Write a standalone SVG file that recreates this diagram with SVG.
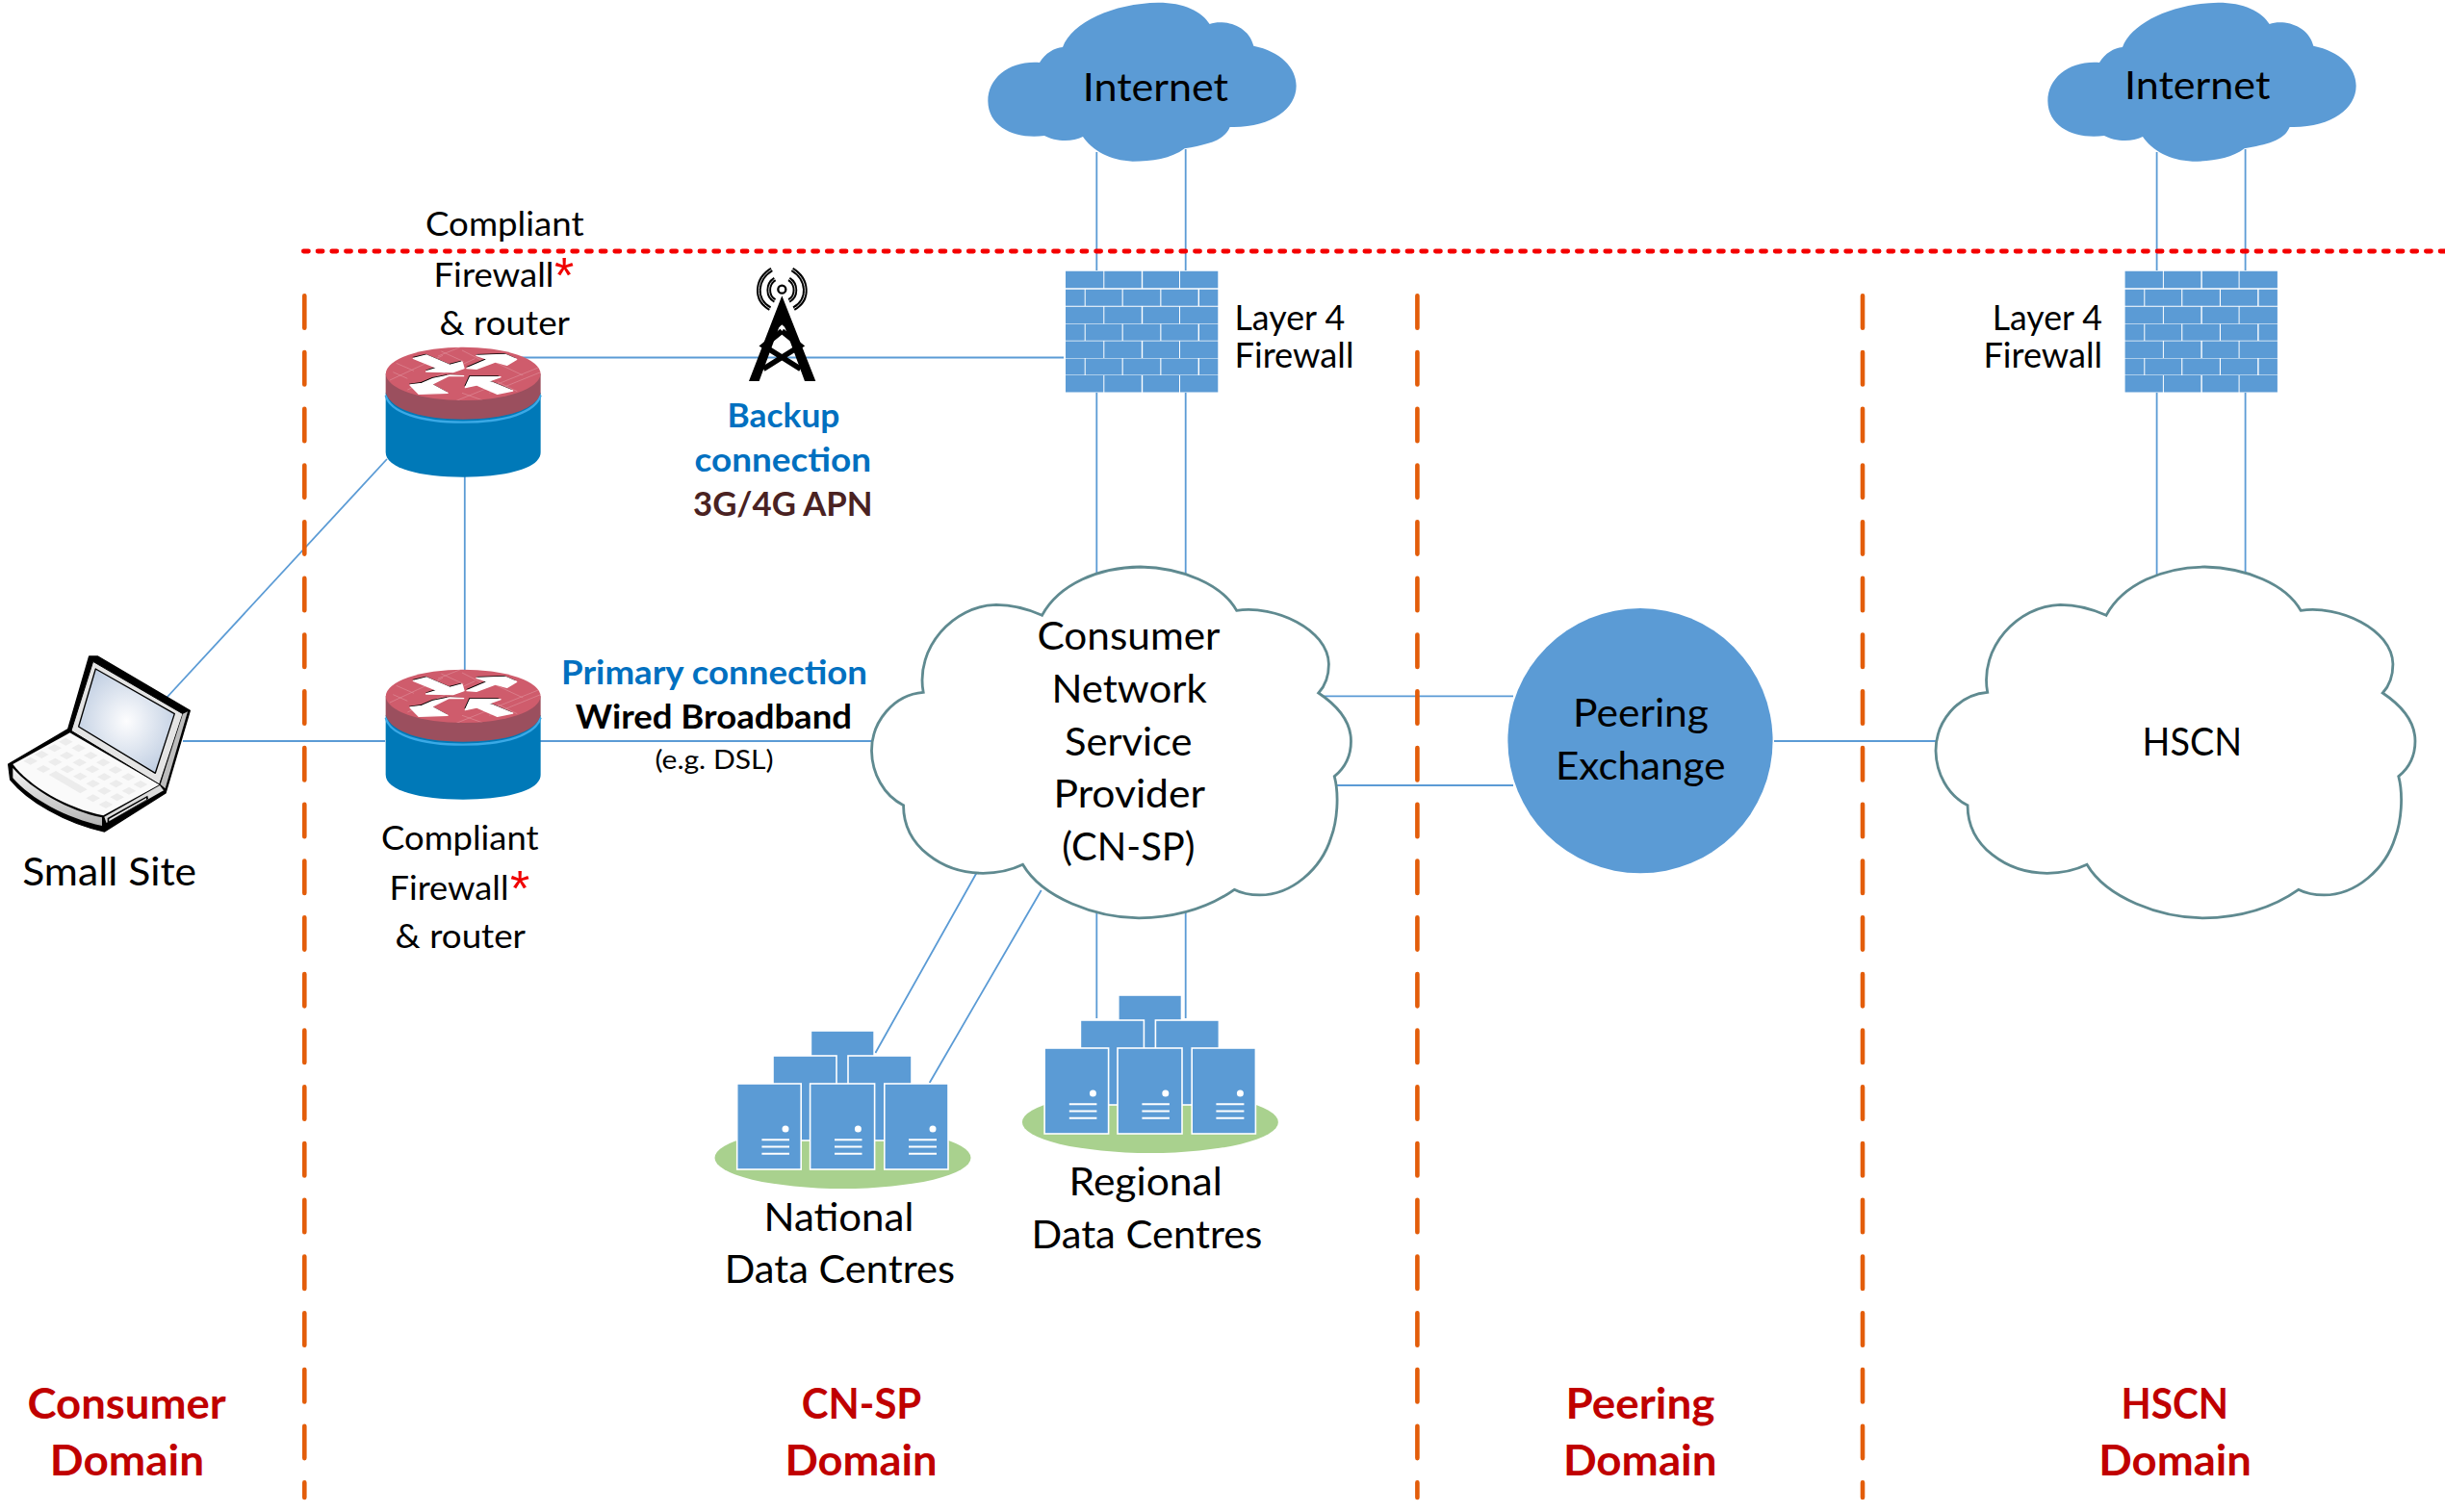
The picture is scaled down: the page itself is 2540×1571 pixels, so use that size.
<svg xmlns="http://www.w3.org/2000/svg" xmlns:xlink="http://www.w3.org/1999/xlink" width="2540" height="1571" viewBox="0 0 2540 1571">
<style>
text{font-family:"Lato","Liberation Sans",sans-serif;fill:#000}
.b{font-size:40px}.m{font-size:36px}.s{font-size:34px}.x{font-size:27px}
.bd{font-size:34px;font-weight:700}
.blue{fill:#0070c0}.brn{fill:#4a2222}
.dom{font-size:43px;font-weight:700;fill:#c00000}
.ast{font-family:"Liberation Sans",sans-serif;font-size:52px;fill:#f00000}
.link{stroke:#5b9bd5;stroke-width:1.8;fill:none}
.orange{stroke:#e35d0a;stroke-width:4.6;stroke-linecap:round;stroke-dasharray:33.4 25.32;fill:none}
.red{stroke:#f40000;stroke-width:4.8;stroke-linecap:round;stroke-dasharray:5 9.7;fill:none}
.cf{fill:#5b9bd5}
.cw{fill:#fff;stroke:#5f8a90;stroke-width:2.8;vector-effect:non-scaling-stroke;stroke-linejoin:miter}
.srv{fill:#5b9bd5;stroke:#fff;stroke-width:1.6}
.wl{stroke:#fff;stroke-width:2;fill:none}
.rb{stroke:#e08c98;stroke-width:2;fill:none}
</style>
<defs>
<path id="inet" d="M240 195C258 165 285 150 312 147C340 70 470 10 610 8C690 8 745 35 770 75C810 60 890 75 907 143C990 160 1040 210 1040 268C1040 340 960 400 833 396C815 440 760 450 692 463C650 495 590 503 530 503C460 500 405 470 375 426C340 445 285 440 255 423C170 435 80 400 79 315C79 240 150 188 240 195Z"/>
<path id="bigcloud" class="cw" d="M588 208C640 110 760 58 885 57C1010 60 1130 110 1175 193C1290 175 1450 250 1453 360C1453 400 1440 430 1422 450C1480 490 1520 540 1520 600C1520 650 1500 685 1470 710C1485 770 1478 850 1460 900C1430 1000 1340 1080 1245 1080C1215 1080 1190 1075 1168 1063C1090 1120 990 1150 880 1152C750 1150 590 1090 530 985C490 1005 450 1012 410 1012C290 1012 170 930 170 800C110 770 75 700 74 630C74 540 140 455 230 448C205 310 320 178 450 175C500 175 550 190 588 208Z"/>
<path id="bA" d="M0 0h39.3v17.6h-39.3zM40.3 0h38.5v17.6h-38.5zM80.2 0h37.8v17.6h-37.8zM119 0h39.3v17.6h-39.3z"/>
<path id="bB" d="M0 0h19.7v17h-19.7zM20.7 0h37.9v17h-37.9zM59.7 0h38.6v17h-38.6zM99.4 0h38.2v17h-38.2zM139 0h19.3v17h-19.3z"/>
<g id="wall" class="cf">
<use xlink:href="#bA" href="#bA" y="0"/><use xlink:href="#bB" href="#bB" y="19"/><use xlink:href="#bA" href="#bA" y="37"/><use xlink:href="#bB" href="#bB" y="55"/><use xlink:href="#bA" href="#bA" y="72.7"/><use xlink:href="#bB" href="#bB" y="90.7"/><use xlink:href="#bA" href="#bA" y="108.3"/>
</g>
<clipPath id="rtop"><ellipse cx="303.5" cy="145" rx="241" ry="83"/></clipPath>
<g id="router">
<path d="M62 205V390C62 440 170 467 303 467C436 467 545 440 545 390V205Z" fill="#0079b8"/>
<path d="M62 212C75 265 170 296 303 296C436 296 530 265 545 212" fill="none" stroke="#3aa9e6" stroke-width="7"/>
<path d="M62 145V205C80 260 180 287 303 287C430 287 530 260 545 205V145Z" fill="#9b4f5e"/>
<ellipse cx="303.5" cy="145" rx="241" ry="83" fill="#cf5c6c"/>
<g clip-path="url(#rtop)" class="rb">
<path d="M75 165L240 88M130 195L340 98M280 230L540 125M225 90L305 58M385 205L545 140M95 112L150 136M235 75L305 107M300 72L365 105M400 108L490 150M170 175L232 205M300 205L365 228M410 170L472 200M85 140L130 160"/>
</g>
<g fill="#000" transform="translate(-3 -4)">
<path d="M148 97L190 87L262 118L300 108L306 128L272 140L188 138L222 127Z"/>
<path d="M315 128L380 100L345 88L435 85L470 100L440 118L405 108L345 130Z"/>
<path d="M305 152L258 152L205 178L255 205L165 208L138 180L175 175L210 160L262 150Z"/>
<path d="M458 198L410 208L345 180L310 188L325 155L420 155L385 168Z"/>
</g>
<g fill="#fff" stroke="#fff" stroke-width="4" stroke-linejoin="round">
<path d="M148 97L190 87L262 118L300 108L306 128L272 140L188 138L222 127Z"/>
<path d="M315 128L380 100L345 88L435 85L470 100L440 118L405 108L345 130Z"/>
<path d="M305 152L258 152L205 178L255 205L165 208L138 180L175 175L210 160L262 150Z"/>
<path d="M458 198L410 208L345 180L310 188L325 155L420 155L385 168Z"/>
</g>
</g>
<g id="dc">
<ellipse cx="875.5" cy="1203" rx="133" ry="32" fill="#a9d18e"/>
<rect class="srv" x="842.4" y="1071" width="65.7" height="60"/>
<rect class="srv" x="803" y="1097" width="66" height="88"/>
<rect class="srv" x="881" y="1097" width="66" height="88"/>
<rect class="srv" x="765.7" y="1126" width="66.5" height="89"/>
<rect class="srv" x="841.6" y="1126" width="67" height="89"/>
<rect class="srv" x="918.8" y="1126" width="66.2" height="89"/>
<g fill="#fff"><circle cx="816" cy="1173" r="3.5"/><circle cx="891.4" cy="1173" r="3.5"/><circle cx="969" cy="1173" r="3.5"/></g>
<path class="wl" d="M791.4 1184.3H820M791.4 1191.5H820M791.4 1198.7H820M867 1184.3H895.5M867 1191.5H895.5M867 1198.7H895.5M944 1184.3H973M944 1191.5H973M944 1198.7H973"/>
</g>
<radialGradient id="scr" cx="50%" cy="50%" r="60%"><stop offset="0" stop-color="#fdfdfe"/><stop offset="1" stop-color="#bccbe0"/></radialGradient>
<linearGradient id="edge" x1="0" y1="0" x2="0" y2="1"><stop offset="0" stop-color="#f4f4f4"/><stop offset="1" stop-color="#b4b4b4"/></linearGradient>
</defs>
<rect width="2540" height="1571" fill="#fff"/>
<g id="connectors">
<path class="link" d="M1139.3 158V281M1231.7 155V281M1139.3 408V600M1231.7 408V600"/>
<path class="link" d="M2240.6 158V281M2332.6 155V281M2240.6 408V600M2332.6 408V600"/>
<path class="link" d="M542 371.5H1105"/>
<path class="link" d="M482.8 495V700"/>
<path class="link" d="M402 477L173 725"/>
<path class="link" d="M190 770H400M561 770H906"/>
<path class="link" d="M1368 723.3H1572M1385 816H1572M1843 770H2012"/>
<path class="link" d="M1014.5 907L909.4 1094M1081.7 925L965.7 1125M1139.3 945V1058M1231.7 945V1058"/>
</g>
<g id="boundaries">
<path class="orange" d="M316.3 307.3V1556"/>
<path class="orange" d="M1472.4 307.3V1556"/>
<path class="orange" d="M1935 307.3V1556"/>
<path class="red" d="M315.4 261H2540"/>
</g>
<g id="internet-1"><use xlink:href="#inet" href="#inet" class="cf" transform="translate(1000 0) scale(.3333)"/>
<text class="b" x="1124.7" y="105.3" textLength="151.3" lengthAdjust="spacingAndGlyphs">Internet</text></g>
<g id="internet-2"><use xlink:href="#inet" href="#inet" class="cf" transform="translate(2101 0) scale(.3333)"/>
<text class="b" x="2207" y="103.3" textLength="151.4" lengthAdjust="spacingAndGlyphs">Internet</text></g>
<g id="firewall-1"><use xlink:href="#wall" href="#wall" transform="translate(1107 281.7)"/>
<text class="m" x="1282.5" y="343.3" textLength="114.7" lengthAdjust="spacingAndGlyphs">Layer 4</text>
<text class="m" x="1282.5" y="382.3" textLength="124" lengthAdjust="spacingAndGlyphs">Firewall</text></g>
<g id="firewall-2"><use xlink:href="#wall" href="#wall" transform="translate(2207.6 281.7)"/>
<text class="m" x="2069.8" y="343.3" textLength="114.2" lengthAdjust="spacingAndGlyphs">Layer 4</text>
<text class="m" x="2060.5" y="382.3" textLength="123.5" lengthAdjust="spacingAndGlyphs">Firewall</text></g>
<g id="router-1"><use xlink:href="#router" href="#router" transform="translate(380 340) scale(.3333)"/>
<text class="s" x="442" y="244.5" textLength="164.6" lengthAdjust="spacingAndGlyphs">Compliant</text>
<text class="s" x="450.5" y="297.8" textLength="125" lengthAdjust="spacingAndGlyphs">Firewall</text>
<text class="ast" x="576" y="304">*</text>
<text class="s" x="456.5" y="347.5" textLength="135.5" lengthAdjust="spacingAndGlyphs">&amp; router</text></g>
<g id="router-2"><use xlink:href="#router" href="#router" transform="translate(380 675) scale(.3333)"/>
<text class="s" x="396" y="883" textLength="163.6" lengthAdjust="spacingAndGlyphs">Compliant</text>
<text class="s" x="404.5" y="934.8" textLength="124" lengthAdjust="spacingAndGlyphs">Firewall</text>
<text class="ast" x="530" y="941">*</text>
<text class="s" x="410.6" y="984.5" textLength="135.4" lengthAdjust="spacingAndGlyphs">&amp; router</text></g>
<g id="laptop">
<g transform="translate(0 660) scale(.3333)">
<path d="M278 66L305 66L592 235L516 492L326 612C200 585 85 515 32 450L26 402L212 293Z" fill="#000" stroke="#000" stroke-width="4" stroke-linejoin="round"/>
<path d="M40 402L218 304L497 466L322 562C210 540 90 470 40 402Z" fill="#fafafa"/>
<path d="M40 414C100 482 215 548 318 568L318 594C210 572 95 510 40 445Z" fill="url(#edge)"/>
<path d="M325 566L498 468L510 484L332 585Z" fill="#dcdcdc"/>
<path d="M335 570L460 500L462 510L335 585Z" fill="#000"/>
<path d="M340 573L456 507L456 512L340 580Z" fill="#e8e8e8"/>
<path d="M290 82L570 245L497 465L222 298Z" fill="#e4e4e4" stroke="#000" stroke-width="3"/>
<path d="M570 245L585 238L515 478L500 465Z" fill="#bdbdbd"/>
<path d="M298 105L544 245L484 430L245 285Z" fill="url(#scr)" stroke="#000" stroke-width="4" stroke-linejoin="round"/>
<path fill="#ececec" d="M183 332l22-12 22 12-22 12zM223 352l22-12 22 12-22 12zM261 375l22-12 22 12-22 12zM300 397l22-12 22 12-22 12zM338 420l22-12 22 12-22 12zM378 442l22-12 22 12-22 12zM416 465l22-12 22 12-22 12zM148 352l22-12 22 12-22 12zM186 375l22-12 22 12-22 12zM226 397l22-12 22 12-22 12zM266 418l22-12 22 12-22 12zM303 442l22-12 22 12-22 12zM340 463l22-12 22 12-22 12zM380 485l22-12 22 12-22 12zM108 372l22-12 22 12-22 12zM150 395l22-12 22 12-22 12zM188 418l22-12 22 12-22 12zM228 440l22-12 22 12-22 12zM268 463l22-12 22 12-22 12zM303 485l22-12 22 12-22 12zM343 505l22-12 22 12-22 12zM73 392l22-12 22 12-22 12zM113 417l22-12 22 12-22 12zM152 435l22-12 98 58-22 12zM268 508l22-12 22 12-22 12zM308 528l22-12 22 12-22 12z"/>
</g>
<text class="b" x="23.2" y="920" textLength="180.9" lengthAdjust="spacingAndGlyphs">Small Site</text>
</g>
<g id="tower">
<g transform="translate(750 270) scale(.3333)">
<path d="M187 112L292 378H258L187 185L116 378H84Z" fill="#000"/>
<path d="M170 178L224 228M204 178L150 228" stroke="#000" stroke-width="12" fill="none"/>
<path d="M187 222L130 268L245 340M187 222L244 268L129 340" stroke="#000" stroke-width="17" fill="none"/>
<circle cx="187" cy="92" r="12" fill="#fff" stroke="#000" stroke-width="7"/>
<g fill="none" stroke="#000" stroke-width="14">
<path d="M155 30C105 60 100 125 150 152M219 30C269 60 274 125 224 152"/>
<path d="M165 60C140 75 140 115 165 127M209 60C234 75 234 115 209 127"/>
</g>
<g fill="none" stroke="#fff" stroke-width="2.5">
<path d="M155 30C105 60 100 125 150 152M219 30C269 60 274 125 224 152"/>
<path d="M165 60C140 75 140 115 165 127M209 60C234 75 234 115 209 127"/>
</g>
</g>
</g>
<g id="backup-label">
<text class="bd blue" x="755.6" y="443.7" textLength="116.8" lengthAdjust="spacingAndGlyphs">Backup</text>
<text class="bd blue" x="721.5" y="490" textLength="183.5" lengthAdjust="spacingAndGlyphs">connection</text>
<text class="bd brn" x="720" y="536" textLength="186.6" lengthAdjust="spacingAndGlyphs">3G/4G APN</text>
</g>
<g id="primary-label">
<text class="bd blue" x="583" y="711" textLength="318" lengthAdjust="spacingAndGlyphs">Primary connection</text>
<text class="bd" x="597.7" y="757" textLength="287.3" lengthAdjust="spacingAndGlyphs">Wired Broadband</text>
<text class="x" x="680.4" y="799" textLength="123.1" lengthAdjust="spacingAndGlyphs">(e.g. DSL)</text>
</g>
<g id="cn-sp"><use xlink:href="#bigcloud" href="#bigcloud" transform="translate(880 570) scale(.3444 .3333)"/>
<text class="b" x="1077.5" y="675" textLength="190" lengthAdjust="spacingAndGlyphs">Consumer</text>
<text class="b" x="1092.5" y="730" textLength="161.2" lengthAdjust="spacingAndGlyphs">Network</text>
<text class="b" x="1106.1" y="785" textLength="132.4" lengthAdjust="spacingAndGlyphs">Service</text>
<text class="b" x="1094.5" y="839.3" textLength="157.5" lengthAdjust="spacingAndGlyphs">Provider</text>
<text class="b" x="1103.3" y="894" textLength="138.2" lengthAdjust="spacingAndGlyphs">(CN-SP)</text></g>
<g id="peering"><circle cx="1704" cy="769.7" r="137.6" class="cf"/>
<text class="b" x="1634" y="755" textLength="141" lengthAdjust="spacingAndGlyphs">Peering</text>
<text class="b" x="1616" y="810" textLength="176.5" lengthAdjust="spacingAndGlyphs">Exchange</text></g>
<g id="hscn"><use xlink:href="#bigcloud" href="#bigcloud" transform="translate(1985.5 570) scale(.3444 .3333)"/>
<text class="b" x="2225.6" y="785.3" textLength="103.4" lengthAdjust="spacingAndGlyphs">HSCN</text></g>
<g id="national"><use xlink:href="#dc" href="#dc"/>
<text class="b" x="793.5" y="1279" textLength="155.8" lengthAdjust="spacingAndGlyphs">National</text>
<text class="b" x="752.7" y="1333" textLength="239.3" lengthAdjust="spacingAndGlyphs">Data Centres</text></g>
<g id="regional"><use xlink:href="#dc" href="#dc" transform="translate(319.4 -37)"/>
<text class="b" x="1110.6" y="1241.7" textLength="159.2" lengthAdjust="spacingAndGlyphs">Regional</text>
<text class="b" x="1071.5" y="1296.7" textLength="239.9" lengthAdjust="spacingAndGlyphs">Data Centres</text></g>
<g id="domains">
<text class="dom" x="28.5" y="1474" textLength="206.3" lengthAdjust="spacingAndGlyphs">Consumer</text>
<text class="dom" x="51.8" y="1532.7" textLength="160.3" lengthAdjust="spacingAndGlyphs">Domain</text>
<text class="dom" x="832.8" y="1474" textLength="124.5" lengthAdjust="spacingAndGlyphs">CN-SP</text>
<text class="dom" x="815.5" y="1532.7" textLength="158" lengthAdjust="spacingAndGlyphs">Domain</text>
<text class="dom" x="1626.5" y="1474" textLength="155" lengthAdjust="spacingAndGlyphs">Peering</text>
<text class="dom" x="1623.9" y="1532.7" textLength="159.6" lengthAdjust="spacingAndGlyphs">Domain</text>
<text class="dom" x="2203.5" y="1474" textLength="111.5" lengthAdjust="spacingAndGlyphs">HSCN</text>
<text class="dom" x="2180.3" y="1532.7" textLength="158.7" lengthAdjust="spacingAndGlyphs">Domain</text>
</g>
</svg>
